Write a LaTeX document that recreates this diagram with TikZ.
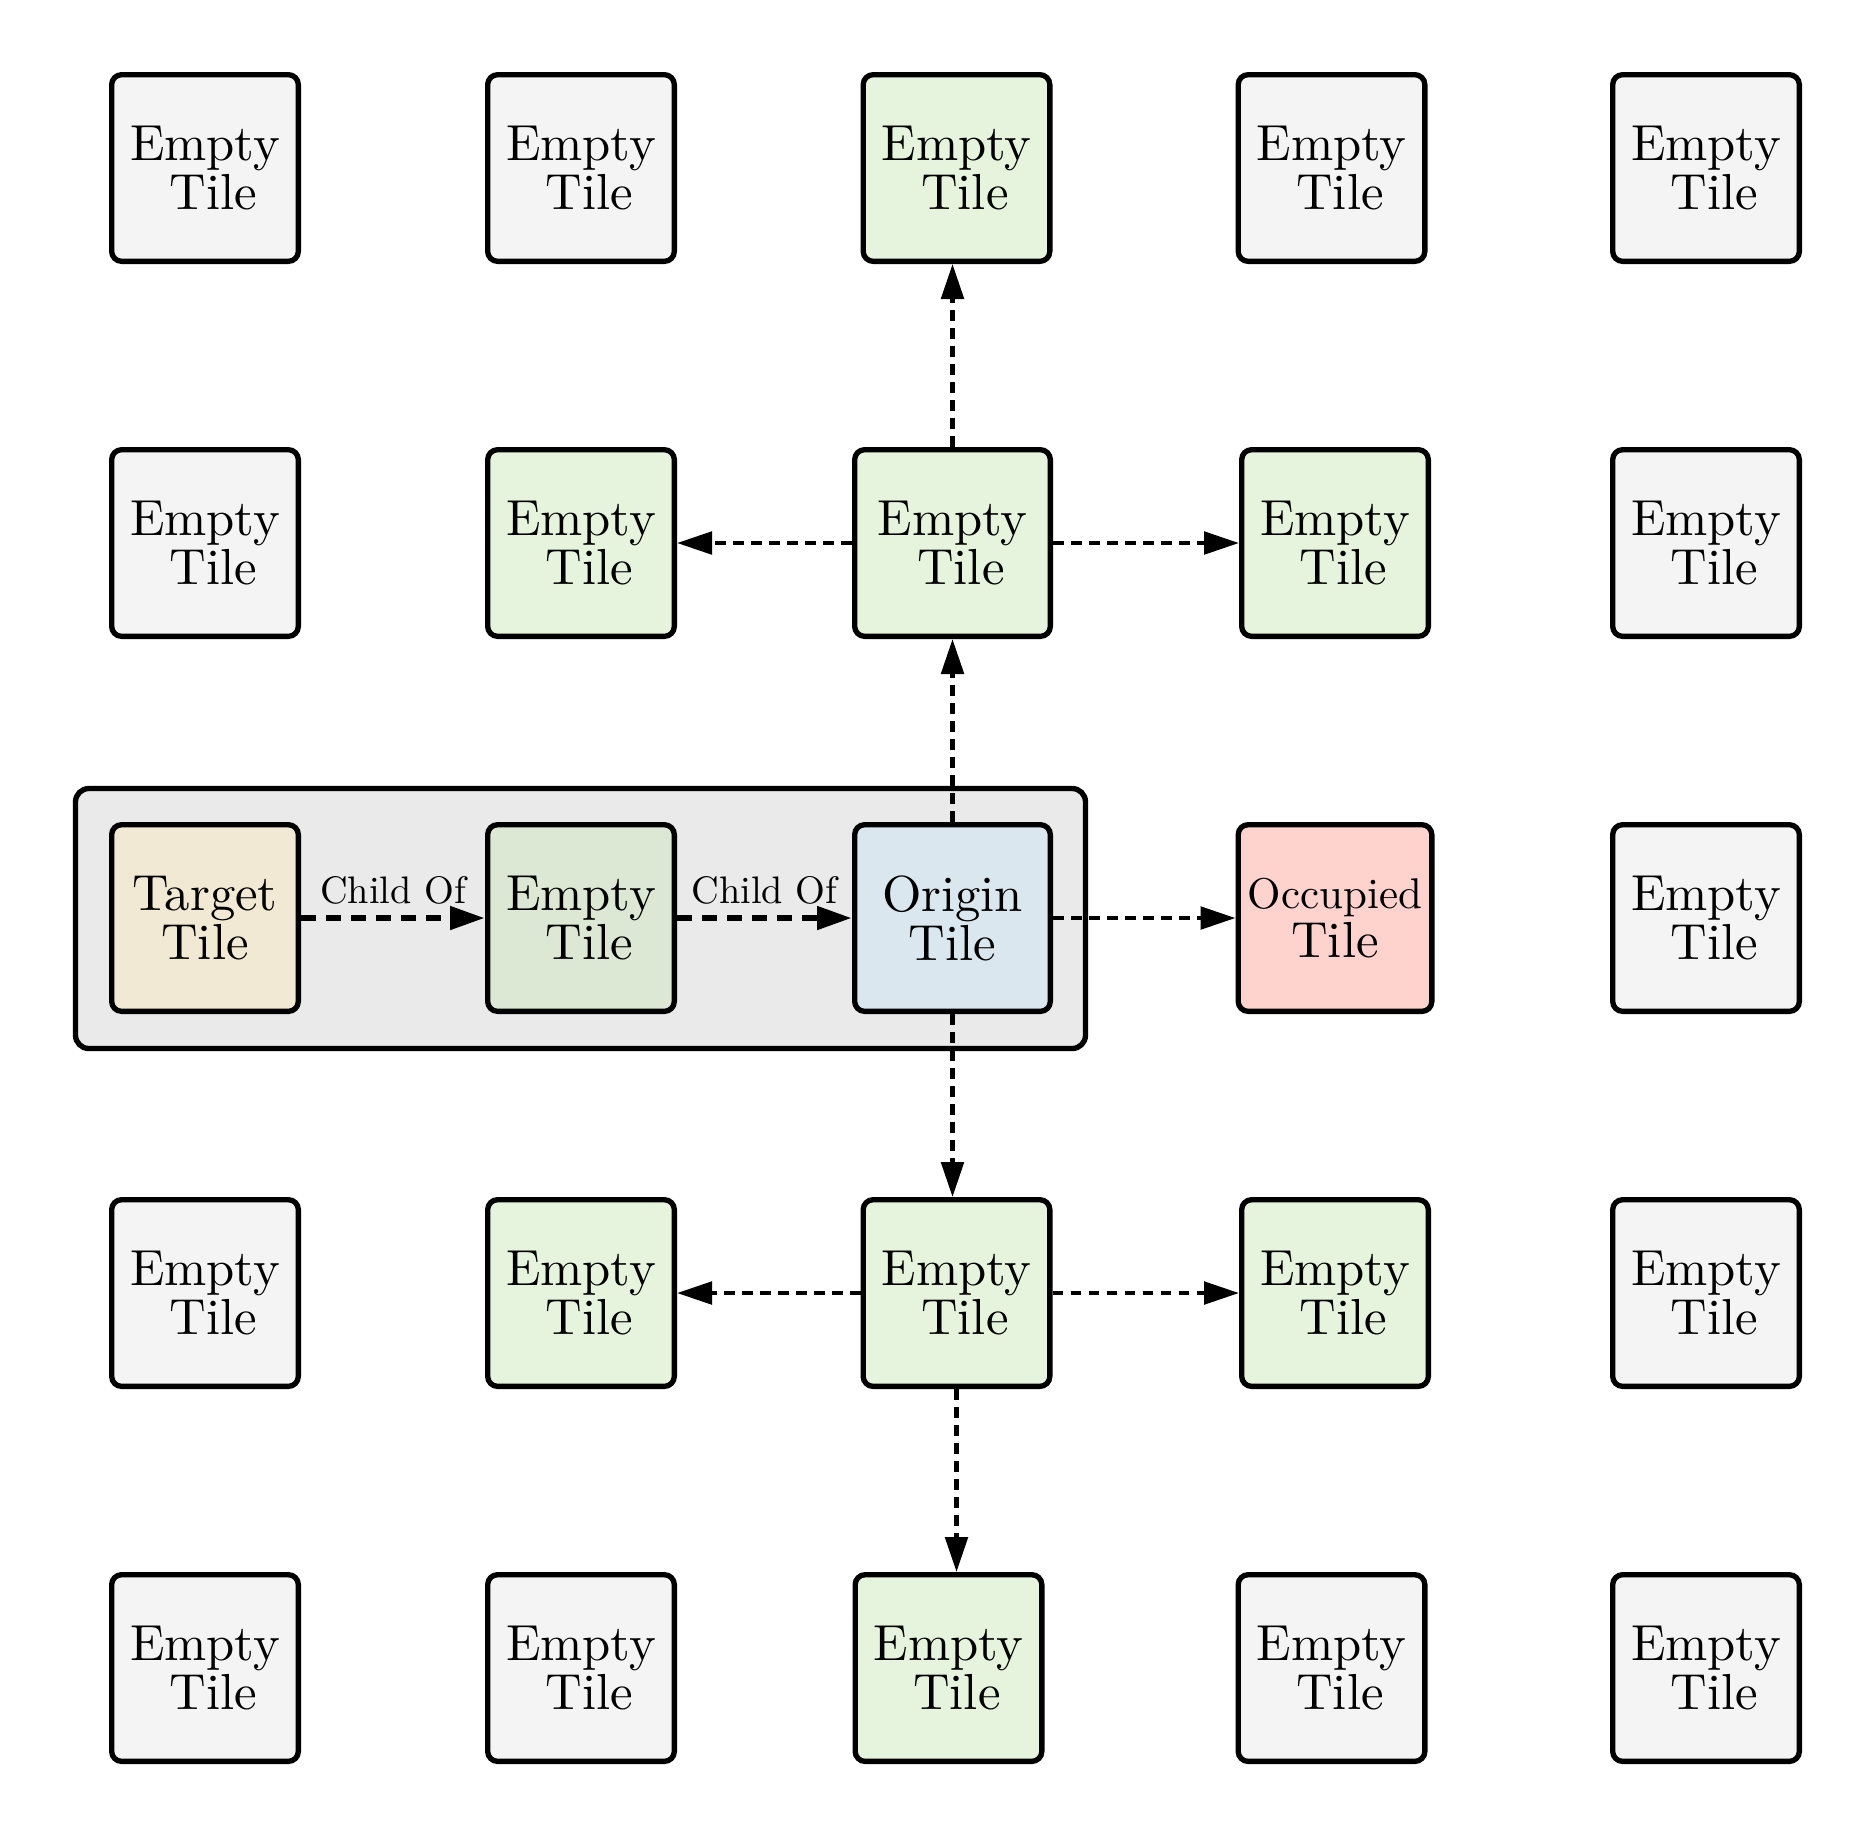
\documentclass[tikz,border=0pt]{standalone}
\usepackage{fontspec}
\usetikzlibrary{arrows.meta}
\newfontface\lmten{lmroman10-regular.otf}
\definecolor{emptygray}{HTML}{F4F4F4}
\definecolor{visitgreen}{HTML}{E6F4DD}
\definecolor{pathgreen}{HTML}{DCE8D3}
\definecolor{targetbeige}{HTML}{F1E9D3}
\definecolor{originblue}{HTML}{DAE7EE}
\definecolor{occupiedred}{HTML}{FED3CD}
\definecolor{groupgray}{HTML}{EAEAEA}
\newcommand\tilefont{\lmten\fontsize{15.2}{14.7}\selectfont}
\newcommand\childlabelfont{\lmten\fontsize{11.5}{12}\selectfont}
\newcommand\emptytext{Empty\\\hspace*{0.333em}Tile}
\begin{document}
\begin{tikzpicture}[x=0.3pt,y=-0.3pt,
  tile/.style={draw, line width=1.6pt, rounded corners=3pt, minimum width=56pt,
    minimum height=56pt, inner sep=0pt, align=center, font=\tilefont, fill=emptygray},
  visited/.style={fill=visitgreen},
  wide/.style={minimum width=58.7pt},
  groupbox/.style={draw, line width=1.6pt, rounded corners=4pt, fill=groupgray},
  arr/.style={line width=1.3pt, dash pattern=on 3.2pt off 2.2pt,
    -{Triangle[length=10.5pt,width=6.7pt]}},
  grouparr/.style={line width=2pt, dash pattern=on 4.5pt off 3pt,
    -{Triangle[length=10.5pt,width=6.7pt]}},
  childlabel/.style={midway, above=3pt, inner sep=0pt, font=\childlabelfont}
]
\useasboundingbox (0,0) rectangle (1875,1838);
\draw[groupbox] (75.5,788.5) rectangle (1085.5,1048.5);

% row 1
\node[tile] (t11) at (205,168) {\emptytext};
\node[tile] (t12) at (581,168) {\emptytext};
\node[tile,visited] (t13) at (956.5,168) {\emptytext};
\node[tile] (t14) at (1331.5,168) {\emptytext};
\node[tile] (t15) at (1706,168) {\emptytext};
% row 2
\node[tile] (t21) at (205,543) {\emptytext};
\node[tile,visited] (t22) at (581,543) {\emptytext};
\node[tile,visited,wide] (t23) at (952.5,543) {\emptytext};
\node[tile,visited] (t24) at (1335,543) {\emptytext};
\node[tile] (t25) at (1706,543) {\emptytext};
% row 3
\node[tile,fill=targetbeige] (t31) at (205,918) {Target\\Tile};
\node[tile,fill=pathgreen] (t32) at (581,918) {\emptytext};
\node[tile,fill=originblue,wide] (t33) at (952.5,918) {Origin\\Tile};
\node[tile,fill=occupiedred,minimum width=58.1pt] (t34) at (1335,918)
  {\fontsize{12.9}{14.7}\selectfont Occupied\\\fontsize{15.2}{14.7}\selectfont Tile};
\node[tile] (t35) at (1706,918) {\emptytext};
% row 4
\node[tile] (t41) at (205,1293) {\emptytext};
\node[tile,visited] (t42) at (581,1293) {\emptytext};
\node[tile,visited] (t43) at (956.5,1293) {\emptytext};
\node[tile,visited] (t44) at (1335,1293) {\emptytext};
\node[tile] (t45) at (1706,1293) {\emptytext};
% row 5
\node[tile] (t51) at (205,1668) {\emptytext};
\node[tile] (t52) at (581,1668) {\emptytext};
\node[tile,visited] (t53) at (948.5,1668) {\emptytext};
\node[tile] (t54) at (1331.5,1668) {\emptytext};
\node[tile] (t55) at (1706,1668) {\emptytext};

% arrows
\draw[grouparr] (t31) -- node[childlabel] {Child Of} (t32);
\draw[grouparr] (t32) -- node[childlabel] {Child Of} (t33);
\draw[arr] (t33.north) -- (t33.north |- t23.south);
\draw[arr] (t33.south) -- (t33.south |- t43.north);
\draw[arr] (t33) -- (t34);
\draw[arr] (t23.north) -- (t23.north |- t13.south);
\draw[arr] (t23) -- (t22);
\draw[arr] (t23) -- (t24);
\draw[arr] (t43) -- (t42);
\draw[arr] (t43) -- (t44);
\draw[arr] (t43.south) -- (t43.south |- t53.north);
\end{tikzpicture}
\end{document}
